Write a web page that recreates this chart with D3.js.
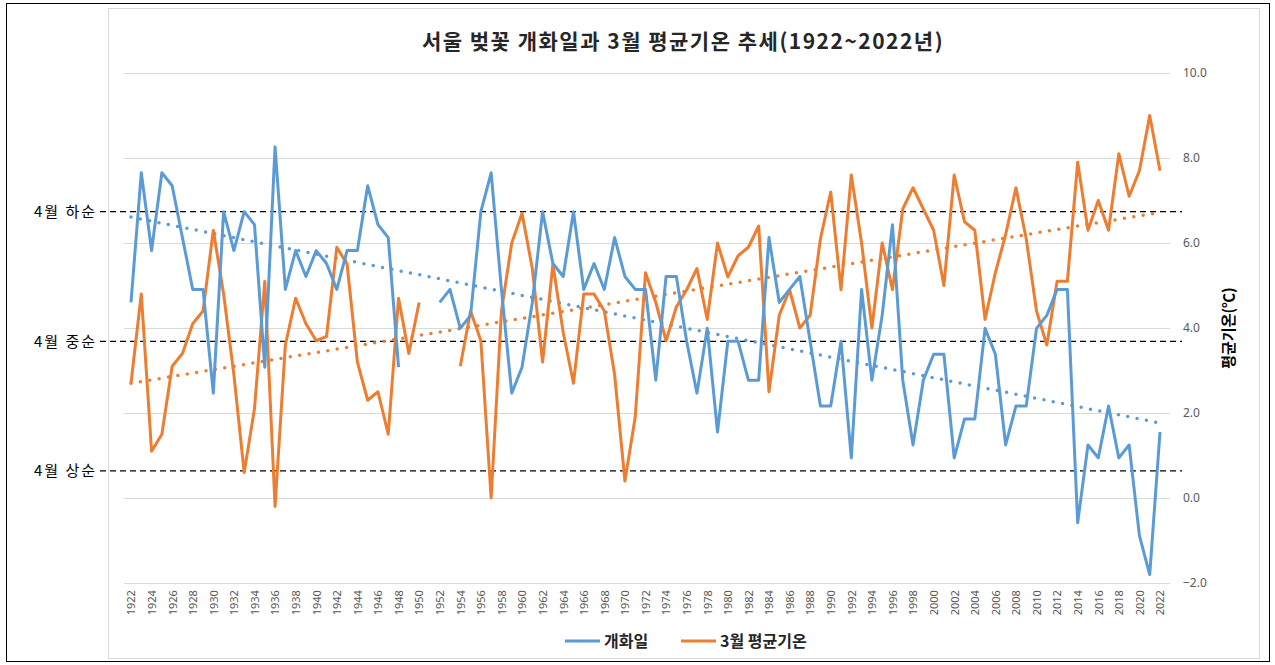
<!DOCTYPE html>
<html>
<head>
<meta charset="utf-8">
<script src="https://cdn.jsdelivr.net/npm/d3@7"></script>
<style>
  body { margin: 0; background: #fff; }
  text { font-family: "Noto Sans CJK KR", "Noto Sans", sans-serif; }
</style>
</head>
<body>
<svg id="chart" width="1275" height="665"></svg>
<script>
// 연도
const years = d3.range(1922, 2023);

// 개화일 (4월 n일, 0 이하는 3월) - 1949~1951 결측
const bloomDay = [
  14, 24, 18, 24, 23, 19, 15, 15, 7, 21,      // 1922-1931
  18, 21, 20, 9, 26, 15, 18, 16, 18, 17,      // 1932-1941
  15, 18, 18, 23, 20, 19, 9, null, null, null, // 1942-1951
  14, 15, 12, 13, 21, 24, 15, 7, 9, 14,       // 1952-1961
  21, 17, 16, 21, 15, 17, 15, 19, 16, 15,     // 1962-1971
  15, 8, 16, 16, 11, 7, 12, 4, 11, 11,        // 1972-1981
  8, 8, 19, 14, 15, 16, 11, 6, 6, 11,         // 1982-1991
  2, 15, 8, 13, 20, 8, 3, 8, 10, 10,          // 1992-2001
  2, 5, 5, 12, 10, 3, 6, 6, 12, 13,           // 2002-2011
  15, 15, -3, 3, 2, 6, 2, 3, -4, -7,          // 2012-2021
  4                                           // 2022
];

// 3월 평균기온(℃) - 1951~1953 결측
const marchTemp = [
  2.7, 4.8, 1.1, 1.5, 3.1, 3.4, 4.1, 4.4, 6.3, 4.8,   // 1922-1931
  2.9, 0.6, 2.1, 5.1, -0.2, 3.6, 4.7, 4.1, 3.7, 3.8,  // 1932-1941
  5.9, 5.5, 3.2, 2.3, 2.5, 1.5, 4.7, 3.4, 4.6, null,  // 1942-1951
  null, null, 3.1, 4.4, 3.7, 0.0, 4.4, 6.0, 6.7, 5.4, // 1952-1961
  3.2, 5.5, 3.9, 2.7, 4.8, 4.8, 4.4, 2.9, 0.4, 1.9,   // 1962-1971
  5.3, 4.6, 3.7, 4.5, 4.9, 5.4, 4.2, 6.0, 5.2, 5.7,   // 1972-1981
  5.9, 6.4, 2.5, 4.3, 4.9, 4.0, 4.3, 6.1, 7.2, 4.9,   // 1982-1991
  7.6, 6.0, 4.0, 6.0, 4.9, 6.8, 7.3, 6.8, 6.3, 5.0,   // 1992-2001
  7.6, 6.5, 6.3, 4.2, 5.3, 6.2, 7.3, 6.1, 4.4, 3.6,   // 2002-2011
  5.1, 5.1, 7.9, 6.3, 7.0, 6.3, 8.1, 7.1, 7.7, 9.0,   // 2012-2021
  7.7                                                 // 2022
];

const tempTicks = [-2, 0, 2, 4, 6, 8, 10];
const periodDays = [1, 11, 21];
const periodLabels = ["4월 상순", "4월 중순", "4월 하순"];
const seriesNames = ["개화일", "3월 평균기온"];
const colors = ["#5B9BD5", "#ED7D31"];

const svg = d3.select("#chart");
const plotLeft = 124, plotRight = 1170, plotTop = 73, plotBottom = 583;

// 테두리
svg.append("rect").attr("x", 6.5).attr("y", 3.5).attr("width", 1263).attr("height", 658)
  .attr("fill", "none").attr("stroke", "#000").attr("stroke-width", 1);
svg.append("rect").attr("x", 108.5).attr("y", 8.5).attr("width", 1151).attr("height", 650)
  .attr("fill", "none").attr("stroke", "#d9d9d9").attr("stroke-width", 1);

let x = d3.scaleLinear().domain([1922, 2022]).range([131, 1160]);
let yT = d3.scaleLinear().domain([-2, 10]).range([plotBottom, plotTop]);
let yD = d3.scaleLinear().domain([-7.65, 31.7]).range([plotBottom, plotTop]);

// 격자선
svg.append("g").selectAll("line").data(tempTicks).enter().append("line")
  .attr("x1", plotLeft).attr("x2", plotRight)
  .attr("y1", d => yT(d) + 0.5).attr("y2", d => yT(d) + 0.5)
  .attr("stroke", "#d9d9d9").attr("stroke-width", 1);

// 오른쪽 축
let yAxis = d3.axisRight(yT).tickValues(tempTicks).tickSize(0).tickPadding(0)
  .tickFormat(d3.format(".1f"));
let gy = svg.append("g").attr("transform", "translate(1183,0)").call(yAxis);
gy.select(".domain").remove();
gy.selectAll("text").attr("fill", "#595959").style("font-size", "12px")
  .style("font-family", "'Noto Sans', sans-serif");

svg.append("text")
  .attr("transform", "translate(1234,328) rotate(-90)")
  .attr("text-anchor", "middle").style("font-size", "15px").style("font-weight", "bold")
  .attr("fill", "#000").text("평균기온(℃)");

// x축 눈금
let xAxis = d3.axisBottom(x).tickValues(years.filter(d => (d - 1922) % 2 === 0))
  .tickFormat(d3.format("d")).tickSize(0).tickPadding(0);
let gx = svg.append("g").attr("transform", "translate(0," + (plotBottom + 6) + ")").call(xAxis);
gx.select(".domain").remove();
gx.selectAll("text")
  .attr("transform", "rotate(-90)")
  .attr("x", 0).attr("y", 0).attr("dx", "-0.1em").attr("dy", "0.35em")
  .style("text-anchor", "end").attr("fill", "#595959")
  .style("font-size", "11px").style("font-family", "'Noto Sans', sans-serif");

// 상순/중순/하순 기준선
svg.append("g").selectAll("line").data(periodDays).enter().append("line")
  .attr("x1", 100).attr("x2", 1182)
  .attr("y1", d => yD(d)).attr("y2", d => yD(d))
  .attr("stroke", "#000").attr("stroke-width", 1.3).attr("stroke-dasharray", "6,4");
svg.append("g").selectAll("text").data(periodDays).enter().append("text")
  .attr("x", 97).attr("y", d => yD(d)).attr("dy", "0.35em")
  .attr("text-anchor", "end").style("font-size", "15px").style("letter-spacing", "2px")
  .attr("fill", "#000")
  .text((d, i) => periodLabels[i]);

// 추세선 (최소제곱)
function trend(values) {
  let pts = years.map((yr, i) => [yr, values[i]]).filter(p => p[1] != null);
  let mx = d3.mean(pts, p => p[0]), my = d3.mean(pts, p => p[1]);
  let b = d3.sum(pts, p => (p[0] - mx) * (p[1] - my)) / d3.sum(pts, p => (p[0] - mx) ** 2);
  let a = my - b * mx;
  return [[1922, a + b * 1922], [2022, a + b * 2022]];
}

let series = [
  { vals: bloomDay, y: yD, color: colors[0] },
  { vals: marchTemp, y: yT, color: colors[1] }
];

series.forEach(s => {
  let t = trend(s.vals);
  svg.append("path")
    .attr("d", d3.line().x(p => x(p[0])).y(p => s.y(p[1]))(t))
    .attr("fill", "none").attr("stroke", s.color).attr("stroke-width", 3.5)
    .attr("stroke-linecap", "round").attr("stroke-dasharray", "0,9.5");
});

// 실제 값 선
series.slice().reverse().forEach(s => {
  let line = d3.line()
    .defined(d => d[1] != null)
    .x(d => x(d[0])).y(d => s.y(d[1]));
  svg.append("path")
    .datum(years.map((yr, i) => [yr, s.vals[i]]))
    .attr("d", line)
    .attr("fill", "none").attr("stroke", s.color).attr("stroke-width", 3)
    .attr("stroke-linejoin", "round");
});

// 제목
svg.append("text").attr("x", 683).attr("y", 49).attr("text-anchor", "middle")
  .style("font-size", "21px").style("font-weight", "bold").style("letter-spacing", "1.5px")
  .attr("fill", "#262626")
  .text("서울 벚꽃 개화일과 3월 평균기온 추세(1922~2022년)");

// 범례
let legend = svg.append("g").attr("transform", "translate(565,641)");
seriesNames.forEach((name, i) => {
  let ox = i * 116;
  legend.append("line").attr("x1", ox).attr("x2", ox + 35).attr("y1", 0).attr("y2", 0)
    .attr("stroke", colors[i]).attr("stroke-width", 3);
  legend.append("text").attr("x", ox + 39).attr("y", 0).attr("dy", "0.35em")
    .style("font-size", "16px").style("font-weight", "bold").attr("fill", "#262626")
    .text(name);
});
</script>
</body>
</html>
